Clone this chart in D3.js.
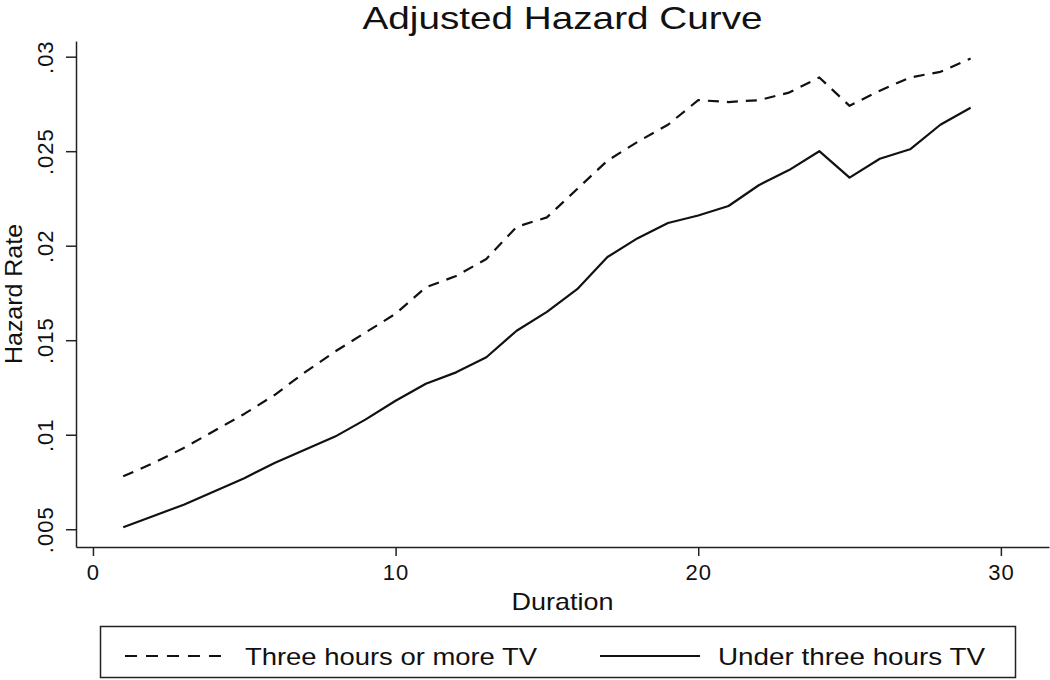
<!DOCTYPE html>
<html>
<head>
<meta charset="utf-8">
<script src="https://cdn.jsdelivr.net/npm/d3@7"></script>
<style>
  body { margin: 0; background: #fff; }
  svg text { font-family: "Liberation Sans", Arial, sans-serif; fill: #111; }
  .axis path, .axis line { stroke: #222; stroke-width: 1.5; }
</style>
</head>
<body>
<svg id="chart" width="1050" height="680"></svg>
<script>

// durations 1..29
let duration = [1, 2, 3, 4, 5, 6, 7, 8, 9, 10, 11, 12, 13, 14, 15,
                16, 17, 18, 19, 20, 21, 22, 23, 24, 25, 26, 27, 28, 29]

// three hours or more TV (dashed)
let heavy_tv = [.0078, .0085, .0093, .0102, .0111, .0121, .0133, .0144, .0154, .0164,
                .0178, .0184, .0193, .0210, .0215, .0230, .0245, .0255, .0264, .0277,
                .0276, .0277, .0281, .0289, .0274, .0282, .0289, .0292, .0299]

// under three hours TV (solid)
let light_tv = [.0051, .0057, .0063, .0070, .0077, .0085, .0092, .0099, .0108, .0118,
                .0127, .0133, .0141, .0155, .0165, .0177, .0194, .0204, .0212, .0216,
                .0221, .0232, .0240, .0250, .0236, .0246, .0251, .0264, .0273]

let x_ticks = [0, 10, 20, 30]
let y_ticks = [.005, .01, .015, .02, .025, .03]

let series_names = ["Three hours or more TV", "Under three hours TV"]

let margin = {left: 76, right: 1, top: 41, bottom: 133};
let W = 1050, H = 680;
let w = W - margin.left - margin.right;
let h = H - margin.top - margin.bottom;

let svg = d3.select('#chart');
let g = svg.append('g')
    .attr('transform', 'translate(' + margin.left + ',' + margin.top + ')');

let x = d3.scaleLinear()
    .domain([-0.56, 31.59])
    .range([0, w]);

let y = d3.scaleLinear()
    .domain([0.00406, 0.03083])
    .range([h, 0]);

let lineFunc = d3.line()
    .x((d, i) => x(duration[i]))
    .y(d => y(d));

// axes
let yAxis = g.append('g')
    .attr('class', 'axis')
    .call(d3.axisLeft(y).tickValues(y_ticks).tickSize(10).tickSizeOuter(0)
          .tickFormat(d => d3.format('.3~f')(d).replace(/^0/, '')));
yAxis.selectAll('text')
    .attr('x', null).attr('dy', null)
    .attr('text-anchor', 'middle')
    .attr('transform', 'translate(-23,0) rotate(-90)')
    .style('font-size', '22px')
    .style('letter-spacing', '1px');

let xAxis = g.append('g')
    .attr('class', 'axis')
    .attr('transform', 'translate(0,' + h + ')')
    .call(d3.axisBottom(x).tickValues(x_ticks).tickSize(9).tickSizeOuter(0).tickPadding(8));
xAxis.selectAll('text')
    .style('font-size', '22px')
    .style('letter-spacing', '1px');

svg.selectAll('.axis .domain').attr('stroke', '#222');

// axis titles
svg.append('text')
    .attr('x', margin.left + w / 2).attr('y', 610)
    .attr('text-anchor', 'middle')
    .attr('textLength', 102).attr('lengthAdjust', 'spacingAndGlyphs')
    .style('font-size', '24px')
    .text('Duration');

svg.append('text')
    .attr('transform', 'translate(22,' + (margin.top + h / 2) + ') rotate(-90)')
    .attr('text-anchor', 'middle')
    .attr('textLength', 140).attr('lengthAdjust', 'spacingAndGlyphs')
    .style('font-size', '24px')
    .text('Hazard Rate');

// title
svg.append('text')
    .attr('x', margin.left + w / 2).attr('y', 29)
    .attr('text-anchor', 'middle')
    .attr('textLength', 400).attr('lengthAdjust', 'spacingAndGlyphs')
    .style('font-size', '32px')
    .text('Adjusted Hazard Curve');

// lines
g.append('path')
    .attr('fill', 'none')
    .attr('stroke', '#111')
    .attr('stroke-width', 2.2)
    .attr('stroke-dasharray', '11,8')
    .attr('stroke-linejoin', 'round')
    .attr('d', lineFunc(heavy_tv));

g.append('path')
    .attr('fill', 'none')
    .attr('stroke', '#111')
    .attr('stroke-width', 2.2)
    .attr('stroke-linejoin', 'round')
    .attr('d', lineFunc(light_tv));

// legend
let leg = svg.append('g');
leg.append('rect')
    .attr('x', 100.5).attr('y', 626.5)
    .attr('width', 915).attr('height', 51)
    .attr('fill', 'none').attr('stroke', '#222').attr('stroke-width', 1.5);

let leg_items = [
    {name: series_names[0], dash: '12,9', lx: 125, tx: 245, tl: 292},
    {name: series_names[1], dash: null, lx: 600, tx: 718, tl: 267}
];
leg_items.forEach(d => {
    leg.append('line')
        .attr('x1', d.lx).attr('x2', d.lx + 100)
        .attr('y1', 656).attr('y2', 656)
        .attr('stroke', '#111').attr('stroke-width', 2)
        .attr('stroke-dasharray', d.dash);
    leg.append('text')
        .attr('x', d.tx).attr('y', 665)
        .attr('textLength', d.tl).attr('lengthAdjust', 'spacingAndGlyphs')
        .style('font-size', '24px')
        .text(d.name);
});

</script>
</body>
</html>
